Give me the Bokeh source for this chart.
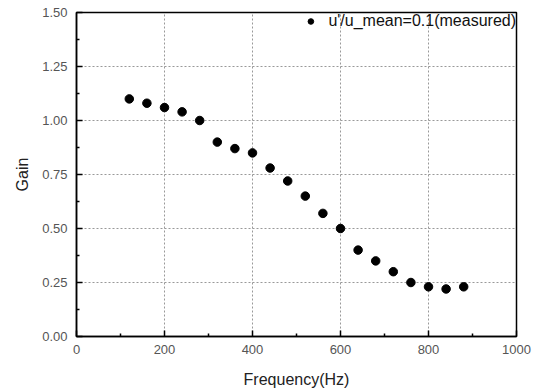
from bokeh.plotting import figure
from bokeh.models import FixedTicker, PrintfTickFormatter, Legend, LegendItem, Range1d
from bokeh.embed import file_html
from bokeh.resources import INLINE

freq = [120, 160, 200, 240, 280, 320, 360, 400, 440, 480, 520, 560, 600, 640, 680, 720, 760, 800, 840, 880]
gain = [1.10, 1.08, 1.06, 1.04, 1.00, 0.90, 0.87, 0.85, 0.78, 0.72, 0.65, 0.57, 0.50, 0.40, 0.35, 0.30, 0.25, 0.23, 0.22, 0.23]
x_ticks = [0, 200, 400, 600, 800, 1000]
y_ticks = [0.0, 0.25, 0.5, 0.75, 1.0, 1.25, 1.5]
series_label = "u'/u_mean=0.1(measured)"

FONT = "Liberation Sans"

p = figure(width=540, height=390, output_backend="svg", toolbar_location=None,
           x_range=Range1d(0, 1000), y_range=Range1d(0, 1.5),
           min_border_left=76, min_border_right=24, min_border_top=12, min_border_bottom=53)

r = p.scatter(freq, gain, size=8.5, color="black")

for ax in (p.xaxis[0], p.yaxis[0]):
    ax.axis_line_width = 1.5
    ax.axis_line_color = "black"
    ax.major_tick_in = 6
    ax.major_tick_out = 0
    ax.minor_tick_in = 3
    ax.minor_tick_out = 0
    ax.major_tick_line_width = 1.5
    ax.minor_tick_line_width = 1.5
    ax.major_label_text_font = FONT
    ax.major_label_text_font_size = "13px"
    ax.major_label_text_color = "#555555"
    ax.axis_label_text_font = FONT
    ax.axis_label_text_font_size = "16px"
    ax.axis_label_text_font_style = "normal"
    ax.axis_label_text_color = "#222222"

p.xaxis.ticker = FixedTicker(ticks=x_ticks, minor_ticks=[100, 300, 500, 700, 900])
p.yaxis.ticker = FixedTicker(ticks=y_ticks, minor_ticks=[0.125, 0.375, 0.625, 0.875, 1.125, 1.375])
p.yaxis.formatter = PrintfTickFormatter(format="%.2f")
p.xaxis.axis_label = "Frequency(Hz)"
p.yaxis.axis_label = "Gain"
p.xaxis.major_label_standoff = 8
p.yaxis.major_label_standoff = 9
p.xaxis.axis_label_standoff = 14
p.yaxis.axis_label_standoff = 8

for g in (p.xgrid[0], p.ygrid[0]):
    g.grid_line_color = "#999999"
    g.grid_line_dash = "2 2"
    g.grid_line_width = 1

p.outline_line_color = "black"
p.outline_line_width = 1.5
p.outline_line_alpha = 1.0

legend = Legend(items=[LegendItem(label=series_label, renderers=[r])],
                location="top_right", border_line_color=None, background_fill_alpha=0,
                label_text_font=FONT, label_text_font_size="16px", label_text_color="#111111",
                glyph_width=14, glyph_height=14, label_height=14, label_standoff=11,
                margin=0, padding=0, spacing=0)
p.add_layout(legend)

open("out.html", "w").write(file_html(p, INLINE))
